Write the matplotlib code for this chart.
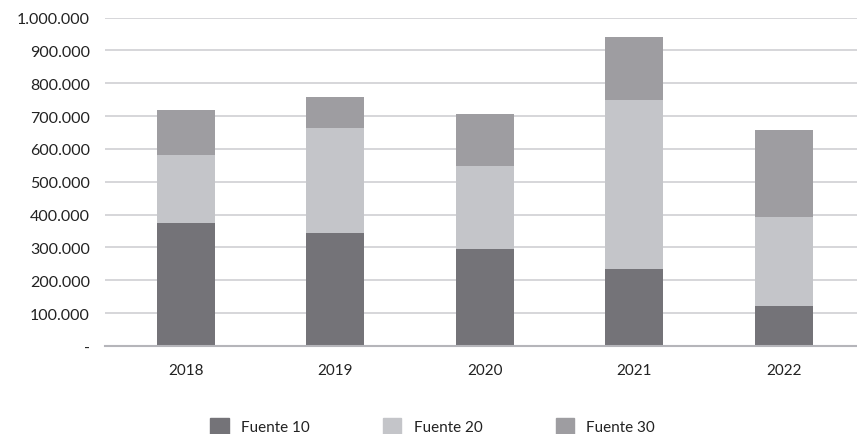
import matplotlib.pyplot as plt
import numpy as np
from matplotlib.patches import Patch

plt.rcParams['font.family'] = ['Lato', 'DejaVu Sans']

years = ['2018', '2019', '2020', '2021', '2022']
fuente10 = [374000, 344000, 295000, 234000, 122000]
fuente20 = [208000, 319000, 253000, 514000, 270000]
fuente30 = [136000, 94000, 158000, 193000, 265000]
yticks = [0, 100000, 200000, 300000, 400000, 500000, 600000, 700000, 800000, 900000, 1000000]

c10 = '#747378'
c20 = '#c4c5c9'
c30 = '#9e9da1'

fig = plt.figure(figsize=(8.57, 4.35), dpi=100)
ax = fig.add_axes([105 / 857, 1 - 347 / 435, 752 / 857, (347 - 18.5) / 435])

x = np.arange(len(years))
w = 0.39
f10 = np.array(fuente10)
f20 = np.array(fuente20)
f30 = np.array(fuente30)
ax.bar(x, f10, w, color=c10, zorder=3)
ax.bar(x, f20, w, bottom=f10, color=c20, zorder=3)
ax.bar(x, f30, w, bottom=f10 + f20, color=c30, zorder=3)

ax.set_xlim(-0.54, 4.49)
ax.set_ylim(0, 1000000)
ax.set_yticks(yticks)
ax.set_yticklabels(['-'] + ['{:,}'.format(v).replace(',', '.') for v in yticks[1:]])
ax.set_xticks(x)
ax.set_xticklabels(years)
ax.tick_params(axis='y', length=0, pad=11, labelsize=11.5, labelcolor='#222222')
ax.tick_params(axis='x', length=0, pad=12, labelsize=11, labelcolor='#222222')
ax.yaxis.grid(True, color='#d3d3d7', linewidth=1.3, zorder=0)
ax.set_axisbelow(True)
for s in ['top', 'right', 'left']:
    ax.spines[s].set_visible(False)
ax.spines['bottom'].set_color('#b5b5ba')
ax.spines['bottom'].set_linewidth(1.5)
ax.spines['bottom'].set_zorder(4)

handles = [Patch(color=c10, label='Fuente 10'),
           Patch(color=c20, label='Fuente 20'),
           Patch(color=c30, label='Fuente 30')]
fig.legend(handles=handles, loc='center', bbox_to_anchor=(0.505, 1 - 427 / 435), ncol=3,
           frameon=False, fontsize=11, handlelength=1.2, handleheight=1.2,
           handletextpad=0.8, columnspacing=4.8, labelcolor='#222222')

fig.savefig('out.png', dpi=100)
